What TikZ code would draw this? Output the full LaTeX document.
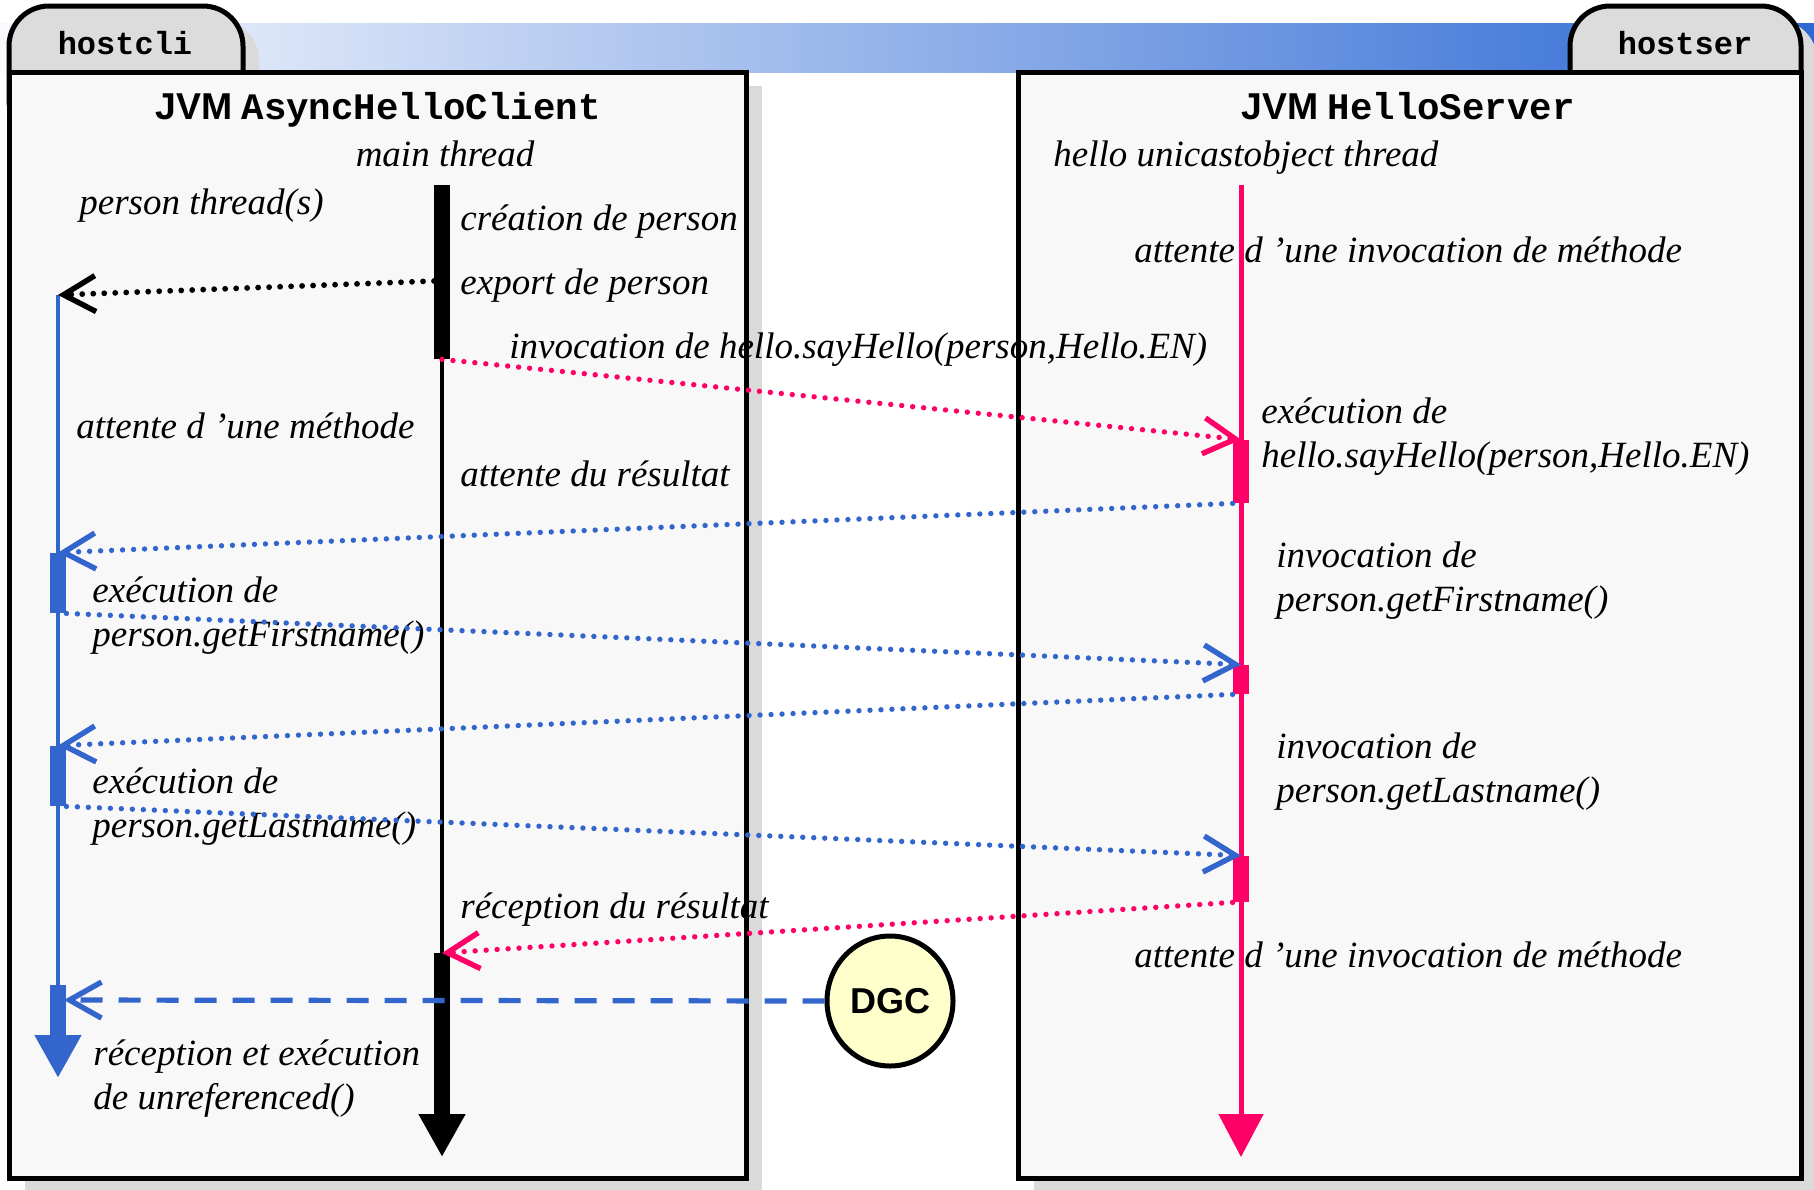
\documentclass[tikz,border=0pt]{standalone}
\usepackage{fontspec}
\setmainfont{Liberation Serif}
\newfontfamily\lblfamily{Liberation Serif}
\newfontfamily\codefamily{Liberation Mono}
\newfontfamily\headfamily{Liberation Sans}
\usetikzlibrary{arrows.meta,shapes.geometric}

\definecolor{pblue}{RGB}{51,102,204}
\definecolor{ppink}{RGB}{255,0,102}
\definecolor{boxfill}{RGB}{248,248,248}
\definecolor{tabfill}{RGB}{220,220,220}
\definecolor{shadowgray}{RGB}{218,218,218}
\definecolor{dgcfill}{RGB}{255,255,204}
\definecolor{bandlight}{RGB}{248,250,254}
\definecolor{banddark}{RGB}{45,105,212}

\begin{document}
\begin{tikzpicture}[x=0.5pt,y=-0.5pt,
  lbl/.style={font=\lblfamily\itshape\fontsize{18.5}{22}\selectfont, anchor=west, inner sep=0pt, align=left},
  title/.style={inner sep=0pt, font=\fontsize{18.7}{22}\selectfont},
  tabtext/.style={inner sep=0pt, font=\codefamily\bfseries\fontsize{16}{20}\selectfont},
  frame/.style={line width=2.5pt},
  bar/.style={rectangle, inner sep=0pt, minimum width=8pt, draw=none},
  barb/.style={-{Straight Barb[length=16pt,width=18pt,line width=2.7pt]}},
  msg/.style={line width=2.7pt, line cap=round, dash pattern=on 0pt off 5.5pt, barb},
  endtip/.style={-{Triangle[length=21.5pt,width=22pt]}}
]
\useasboundingbox (0,0) rectangle (1814,1189);

% title band
\shade[left color=bandlight, right color=banddark] (0,23) rectangle (1814,72);

% drop shadows
\fill[shadowgray, rounded corners=20pt] (25,20) -- (259,20) -- (259,150) -- (25,150) -- cycle;
\fill[shadowgray] (25,86) rectangle (762,1200);
\fill[shadowgray, rounded corners=20pt] (1586,20) -- (1817,20) -- (1817,150) -- (1586,150) -- cycle;
\fill[shadowgray] (1034,86) rectangle (1830,1200);

% host tabs
\draw[frame, fill=tabfill, rounded corners=20pt] (9,140) -- (9,6) -- (243,6) -- (243,140) -- cycle;
\draw[frame, fill=tabfill, rounded corners=20pt] (1570,140) -- (1570,6) -- (1801,6) -- (1801,140) -- cycle;
\node[tabtext] (hcli) at (125,43) {hostcli};
\node[tabtext] (hser) at (1685,43) {hostser};

% JVM boxes (fill first, frame later)
\fill[boxfill] (9,72) rectangle (746,1178);
\fill[boxfill] (1018,72) rectangle (1801,1178);

% headings
\node[title] (jvmc) at (378,110) {{\headfamily\bfseries JVM} {\codefamily\bfseries AsyncHelloClient}};
\node[title] (jvms) at (1408,106) {{\headfamily\bfseries JVM} {\codefamily\bfseries HelloServer}};
\node[lbl, anchor=center] (mainth) at (445,154) {main thread};
\node[lbl] (persth) at (79,206) {person thread(s)};
\node[lbl] (helloth) at (1053,158) {hello unicastobject thread};

% client-side labels
\node[lbl] (l1) at (460,222) {création de person};
\node[lbl] (l2) at (460,286) {export de person};
\node[lbl] (l3) at (509,350) {invocation de hello.sayHello(person,Hello.EN)};
\node[lbl] (l4) at (76,426) {attente d ’une méthode};
\node[lbl] (l5) at (460,474) {attente du résultat};
\node[lbl] (l6) at (92,616) {exécution de\\person.getFirstname()};
\node[lbl] (l7) at (92,807) {exécution de\\person.getLastname()};
\node[lbl] (l8) at (460,910) {réception du résultat};
\node[lbl] (l9) at (93,1079) {réception et exécution\\de unreferenced()};

% server-side labels
\node[lbl] (r1) at (1134,250) {attente d ’une invocation de méthode};
\node[lbl] (r2) at (1261,437) {exécution de\\hello.sayHello(person,Hello.EN)};
\node[lbl] (r3) at (1276,581) {invocation de\\person.getFirstname()};
\node[lbl] (r4) at (1276,772) {invocation de\\person.getLastname()};
\node[lbl] (r5) at (1134,955) {attente d ’une invocation de méthode};

% box frames
\draw[frame] (9,72) rectangle (746,1178);
\draw[frame] (1018,72) rectangle (1801,1178);

% lifeline anchor points
\coordinate (mtop) at (442,185);
\coordinate (mend) at (442,1157);
\coordinate (ptop) at (58,295);
\coordinate (pend) at (58,1078);
\coordinate (stop) at (1241,185);
\coordinate (send) at (1241,1157);

% main thread
\draw[line width=2pt] (mtop) -- (442,953);
\node[bar, fill=black, minimum height=87pt] (mb1) at (442,272) {};
\draw[line width=8pt, endtip] (442,953) -- (mend);

% person thread
\draw[pblue, line width=2.2pt] (ptop) -- (58,985);
\node[bar, fill=pblue, minimum height=30pt] (pb1) at (58,583) {};
\node[bar, fill=pblue, minimum height=30pt] (pb2) at (58,776) {};
\draw[pblue, line width=8pt, endtip] (58,985) -- (pend);

% server thread
\draw[ppink, line width=2.5pt, endtip] (stop) -- (send);
\node[bar, fill=ppink, minimum height=31.5pt] (sb1) at (1241,471.5) {};
\node[bar, fill=ppink, minimum height=14.5pt] (sb2) at (1241,679.5) {};
\node[bar, fill=ppink, minimum height=23pt] (sb3) at (1241,879) {};

% messages
\draw[msg, black, line width=2.9pt] (434,281) -- (ptop);
\draw[msg, ppink] (mb1.south) -- (sb1.north);
\draw[msg, pblue] (sb1.south west) -- (pb1.north);
\draw[msg, pblue] (pb1.south east) -- (sb2.north);
\draw[msg, pblue] (sb2.south west) -- (pb2.north);
\draw[msg, pblue] (pb2.south east) -- (sb3.north);
\draw[msg, ppink] (sb3.south west) -- (442,953);

% distributed garbage collector
\node[ellipse, draw, line width=2.5pt, fill=dgcfill, minimum width=63pt, minimum height=65pt, inner sep=0pt,
  font=\headfamily\bfseries\fontsize{18}{22}\selectfont] (dgc) at (890,1001) {DGC};
\draw[pblue, line width=2.6pt, dash pattern=on 11pt off 8pt, barb] (dgc.west) -- (64,1000);
\end{tikzpicture}
\end{document}
